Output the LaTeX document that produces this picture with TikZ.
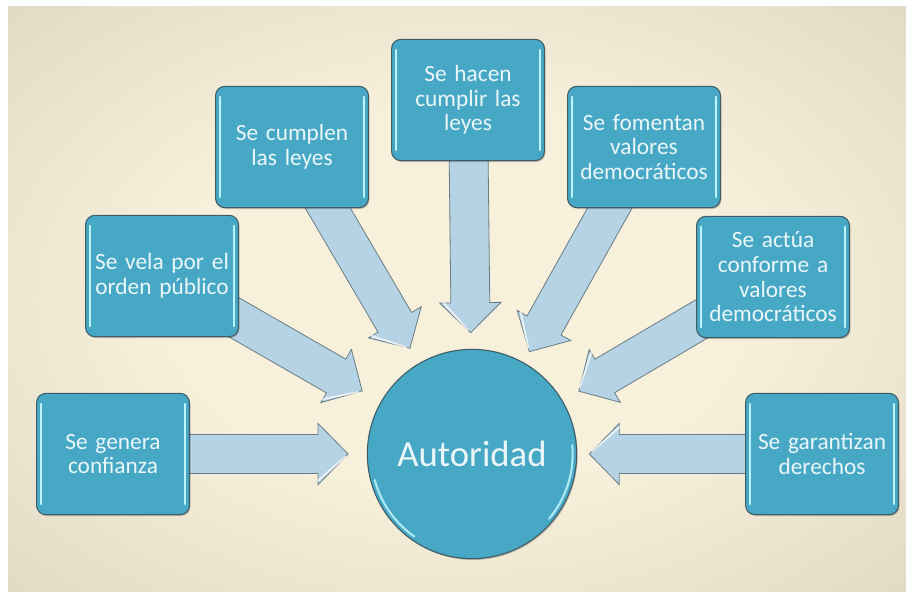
\documentclass[tikz,border=0pt]{standalone}
\usepackage{fontspec}
\setmainfont{Carlito}
\usetikzlibrary{calc,shadows}
\definecolor{boxblue}{HTML}{47A8C5}
\definecolor{boxedge}{HTML}{3E5C66}
\definecolor{hilite}{HTML}{BDF3FB}
\definecolor{arrfill}{HTML}{B6D3E5}
\definecolor{arredge}{HTML}{6A7C84}
\definecolor{txt}{HTML}{EAF6F8}
\definecolor{bgin}{HTML}{F7F0DB}
\definecolor{bgmid}{HTML}{D3CDB6}
\definecolor{bgout}{HTML}{A19E8E}
\pgfdeclareradialshading{bgshade}{\pgfpointorigin}{color(0bp)=(bgin); color(16bp)=(bgin); color(48bp)=(bgmid); color(71bp)=(bgout)}
\pgfdeclarelayer{bg}
\pgfdeclarelayer{arr}
\pgfsetlayers{bg,arr,main}
\tikzset{
  infobox/.style={rectangle, rounded corners=7pt, fill=boxblue, draw=boxedge, line width=0.8pt,
    minimum width=112pt, minimum height=91pt, text width=108pt, align=center, text=txt,
    font=\fontsize{17.5}{18.5}\selectfont,
    drop shadow={opacity=0.22, shadow xshift=0.8pt, shadow yshift=-1pt, fill=black},
    path picture={
      \draw[hilite, line width=1.6pt, line cap=round]
        ([xshift=3.5pt,yshift=-8pt]path picture bounding box.north west) --
        ([xshift=3.5pt,yshift=8pt]path picture bounding box.south west);
      \draw[hilite, line width=1.6pt, line cap=round]
        ([xshift=-3.5pt,yshift=-8pt]path picture bounding box.north east) --
        ([xshift=-3.5pt,yshift=8pt]path picture bounding box.south east);
    }},
  hub/.style={circle, fill=boxblue, draw=boxedge, line width=0.8pt, minimum size=157pt, inner sep=0pt,
    text=txt, font=\fontsize{27.5}{30}\selectfont,
    drop shadow={opacity=0.22, shadow xshift=0.8pt, shadow yshift=-1pt, fill=black},
    path picture={
      \draw[hilite!85!boxblue, line width=1.6pt, line cap=round]
        (path picture bounding box.center) ++(195:75.5pt) arc[start angle=195, end angle=235, radius=75.5pt];
      \draw[hilite!85!boxblue, line width=1.6pt, line cap=round]
        (path picture bounding box.center) ++(-40:75.5pt) arc[start angle=-40, end angle=5, radius=75.5pt];
    }},
  fatarr/.style={fill=arrfill, draw=arredge, line width=0.6pt, line join=miter},
  headglint/.style={draw=white, opacity=0.7, line width=1.4pt, line cap=round}
}
\newcommand{\fatarrow}[2]{%
  \begin{pgfonlayer}{arr}
    \path ($(#2)!22.5pt!(#1.center)$) coordinate (H);
    \draw[fatarr] ($(#1.center)!14.6pt!90:(#2)$) -- ($(H)!14.6pt!90:(#2)$) -- ($(H)!23pt!90:(#2)$)
      -- (#2) -- ($(H)!23pt!-90:(#2)$) -- ($(H)!14.6pt!-90:(#2)$) -- ($(#1.center)!14.6pt!-90:(#2)$) -- cycle;
    \draw[headglint] ($(H)!20pt!-90:(#2)$) -- ($(#2)!3pt!($(H)!23pt!-90:(#2)$)$);
  \end{pgfonlayer}}
\begin{document}
\begin{tikzpicture}[x=0.75pt, y=-0.75pt]
\useasboundingbox (0,0) rectangle (906,592);
\begin{pgfonlayer}{bg}
  \fill[white] (0,0) rectangle (906,592);
  \shade[shading=bgshade] (8,7) rectangle (906,592);
\end{pgfonlayer}

\node[hub] (aut) at (472,454) {Autoridad};

\node[infobox] (genera) at (113,454) {Se genera\\confianza};
\node[infobox] (vela) at (162,276) {Se vela por el\\orden público};
\node[infobox] (cumplen) at (292,147) {Se cumplen\\las leyes};
\node[infobox] (hacen) at (468,100) {Se hacen\\cumplir las\\leyes};
\node[infobox] (fomentan) at (644,147) {Se fomentan\\valores\\democráticos};
\node[infobox] (actua) at (773,277) {Se actúa\\conforme a\\valores\\democráticos};
\node[infobox] (garant) at (822,454) {Se garantizan\\derechos};

\coordinate (tgenera) at ($(aut.center)!93pt!(genera.center)$);
\coordinate (tvela) at ($(aut.center)!95pt!(vela.center)$);
\coordinate (tcumplen) at ($(aut.center)!92pt!(cumplen.center)$);
\coordinate (thacen) at ($(aut.center)!91pt!(hacen.center)$);
\coordinate (tfomentan) at ($(aut.center)!88pt!(fomentan.center)$);
\coordinate (tactua) at ($(aut.center)!93pt!(actua.center)$);
\coordinate (tgarant) at ($(aut.center)!88pt!(garant.center)$);

\fatarrow{genera}{tgenera}
\fatarrow{vela}{tvela}
\fatarrow{cumplen}{tcumplen}
\fatarrow{hacen}{thacen}
\fatarrow{fomentan}{tfomentan}
\fatarrow{actua}{tactua}
\fatarrow{garant}{tgarant}
\end{tikzpicture}
\end{document}
